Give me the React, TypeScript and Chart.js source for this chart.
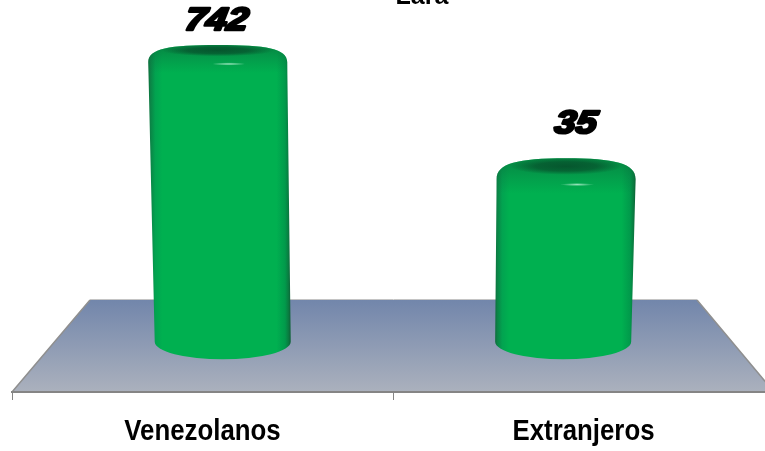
import React, { useEffect, useRef } from "react";
import { Chart, registerables } from "chart.js";

Chart.register(...registerables);

const titleText = "Lara";
const categories = ["Venezolanos", "Extranjeros"];
const barPositions = [0, 1];
const values = [742, 35];
const valueLabels = ["742", "35"];

const FONT = "'Liberation Sans', Arial, sans-serif";
const labelOffsets = [
  { dx: -2.5, dy: -15 },
  { dx: 8.5, dy: -25 },
];

const cylinderPlugin = {
  id: "cylinder3d",
  afterLayout(chart: any) {
    if (chart.titleBlock) {
      chart.titleBlock.left += 29;
      chart.titleBlock.right += 29;
    }
  },
  beforeDraw(chart: any) {
    const { ctx, chartArea: a } = chart;
    const backY = a.bottom - 92;
    ctx.save();
    const g = ctx.createLinearGradient(0, backY, 0, a.bottom);
    g.addColorStop(0, "#7286ab");
    g.addColorStop(1, "#abb1bd");
    ctx.beginPath();
    ctx.moveTo(a.left, a.bottom);
    ctx.lineTo(a.left + 78, backY);
    ctx.lineTo(a.right - 77, backY);
    ctx.lineTo(a.right, a.bottom);
    ctx.closePath();
    ctx.fillStyle = g;
    ctx.fill();
    ctx.lineWidth = 1.5;
    ctx.strokeStyle = "#8f8f8f";
    ctx.beginPath();
    ctx.moveTo(a.left, a.bottom);
    ctx.lineTo(a.left + 78, backY);
    ctx.moveTo(a.right - 77, backY);
    ctx.lineTo(a.right, a.bottom);
    ctx.stroke();
    ctx.strokeStyle = "#c4c4c4";
    ctx.lineWidth = 1;
    ctx.beginPath();
    ctx.moveTo(a.left + 78, backY - 0.5);
    ctx.lineTo(a.right - 77, backY - 0.5);
    ctx.stroke();
    ctx.restore();
  },
  afterDatasetsDraw(chart: any) {
    const { ctx } = chart;
    const meta = chart.getDatasetMeta(0);
    const mid = (chart.chartArea.left + chart.chartArea.right) / 2;
    meta.data.forEach((el: any, i: number) => {
      const h = el.base - el.y;
      const cy = el.y;
      const baseY = el.base;
      const spread = (el.x - mid) * h * 1.0e-4;
      const baseC = el.x - spread * 0.45;
      const topC = el.x + spread * 0.55;
      const baseRx = 68;
      const topRx = 69.5;
      const baseRy = 17.5;
      const topRy = 17 - h * 0.031;
      const shoulder = 9;

      const left = Math.min(baseC - baseRx, topC - topRx);
      const right = Math.max(baseC + baseRx, topC + topRx);
      const grad = ctx.createLinearGradient(left, 0, right, 0);
      grad.addColorStop(0, "#0b6a38");
      grad.addColorStop(0.012, "#0c8045");
      grad.addColorStop(0.05, "#02a350");
      grad.addColorStop(0.1, "#00b050");
      grad.addColorStop(0.9, "#00b050");
      grad.addColorStop(0.96, "#019a4b");
      grad.addColorStop(0.985, "#0a7a40");
      grad.addColorStop(1, "#0c5f34");

      ctx.save();
      const body = new Path2D();
      body.moveTo(baseC - baseRx, baseY);
      body.ellipse(baseC, baseY, baseRx, baseRy, 0, Math.PI, 0, true);
      body.lineTo(topC + topRx, cy + shoulder);
      body.bezierCurveTo(topC + topRx, cy - topRy * 0.55, topC + topRx * 0.7, cy - topRy, topC, cy - topRy);
      body.bezierCurveTo(topC - topRx * 0.7, cy - topRy, topC - topRx, cy - topRy * 0.55, topC - topRx, cy + shoulder);
      body.closePath();
      ctx.fillStyle = grad;
      ctx.fill(body);
      ctx.clip(body);

      // shoulder shading under the rim
      const rim = ctx.createLinearGradient(0, cy - topRy, 0, cy + topRy + 12);
      rim.addColorStop(0, "rgba(10,100,55,0.6)");
      rim.addColorStop(0.6, "rgba(10,120,65,0.28)");
      rim.addColorStop(1, "rgba(10,120,65,0)");
      ctx.fillStyle = rim;
      ctx.fillRect(left, cy - topRy - 1, right - left, 2 * topRy + 14);

      // dark cap in the centre of the top
      ctx.save();
      ctx.translate(topC, cy - topRy * 0.3);
      ctx.scale(topRx * 0.8, topRy * 0.72);
      const cap = ctx.createRadialGradient(0, 0, 0, 0, 0, 1);
      cap.addColorStop(0, "rgba(6,72,40,0.8)");
      cap.addColorStop(0.55, "rgba(6,72,40,0.62)");
      cap.addColorStop(1, "rgba(6,72,40,0)");
      ctx.fillStyle = cap;
      ctx.beginPath();
      ctx.arc(0, 0, 1, 0, Math.PI * 2);
      ctx.fill();
      ctx.restore();

      // specular highlight
      ctx.save();
      ctx.translate(topC + 11, cy + topRy + 3);
      ctx.scale(17, 1.6);
      const sp = ctx.createRadialGradient(0, 0, 0, 0, 0, 1);
      sp.addColorStop(0, "rgba(170,235,200,0.9)");
      sp.addColorStop(1, "rgba(170,235,200,0)");
      ctx.fillStyle = sp;
      ctx.beginPath();
      ctx.arc(0, 0, 1, 0, Math.PI * 2);
      ctx.fill();
      ctx.restore();
      ctx.restore();

      // value label
      const off = labelOffsets[i];
      ctx.save();
      ctx.font = `italic bold 32px ${FONT}`;
      ctx.textAlign = "center";
      ctx.textBaseline = "alphabetic";
      ctx.lineJoin = "round";
      ctx.lineWidth = 2.6;
      ctx.strokeStyle = "#000";
      ctx.fillStyle = "#000";
      ctx.translate(topC + off.dx, cy - topRy + off.dy);
      ctx.transform(1.18, 0, -0.16, 1, 0, 0);
      ctx.strokeText(valueLabels[i], 0, 0);
      ctx.fillText(valueLabels[i], 0, 0);
      ctx.restore();
    });
  },
  afterDraw(chart: any) {
    // category labels, taller and narrower than the plain font
    const { ctx, chartArea: a } = chart;
    const scale = chart.scales.x;
    ctx.save();
    ctx.font = `bold 29px ${FONT}`;
    ctx.fillStyle = "#000";
    ctx.textAlign = "center";
    ctx.textBaseline = "alphabetic";
    scale.ticks.forEach((_t: any, i: number) => {
      ctx.save();
      ctx.translate(scale.getPixelForTick(i), a.bottom + 48);
      ctx.scale(0.89, 1);
      ctx.fillText(categories[i], 0, 0);
      ctx.restore();
    });
    ctx.restore();
  },
};

export default function App() {
  const ref = useRef<HTMLCanvasElement | null>(null);
  useEffect(() => {
    if (!ref.current) return;
    const chart = new Chart(ref.current, {
      type: "bar",
      data: {
        datasets: [
          {
            data: barPositions.map((x, i) => ({ x, y: values[i] })),
            xAxisID: "xBars",
            yAxisID: "y",
            base: 0.393,
            barThickness: 110,
            backgroundColor: "#00b050",
            borderWidth: 0,
          } as any,
        ],
      },
      options: {
        animation: false,
        responsive: false,
        layout: { padding: { left: 12, right: 70, top: 0, bottom: 0 } },
        plugins: {
          legend: { display: false },
          tooltip: { enabled: false },
          title: {
            display: true,
            text: titleText,
            color: "#000",
            font: { family: FONT, size: 25, weight: "bold" },
            padding: 0,
          },
        },
        scales: {
          x: {
            type: "category",
            labels: categories,
            offset: true,
            afterFit(scale: any) {
              scale.height = 59;
            },
            border: { display: true, color: "#858585", width: 2 },
            grid: {
              display: true,
              offset: true,
              drawOnChartArea: false,
              drawTicks: true,
              tickLength: 8,
              color: "#858585",
            },
            ticks: { display: false },
          },
          xBars: {
            type: "linear",
            display: false,
            offset: false,
            min: -0.606,
            max: 1.609,
          },
          y: {
            type: "logarithmic",
            display: false,
            min: 0.106,
            max: 2160,
          },
        },
      } as any,
      plugins: [cylinderPlugin as any],
    });
    return () => chart.destroy();
  }, []);
  return (
    <div style={{ position: "absolute", left: 0, top: 0, width: 765, height: 451, overflow: "hidden", background: "#fff" }}>
      <canvas ref={ref} width={844} height={469} style={{ position: "absolute", left: 0, top: -18, display: "block" }} />
    </div>
  );
}
